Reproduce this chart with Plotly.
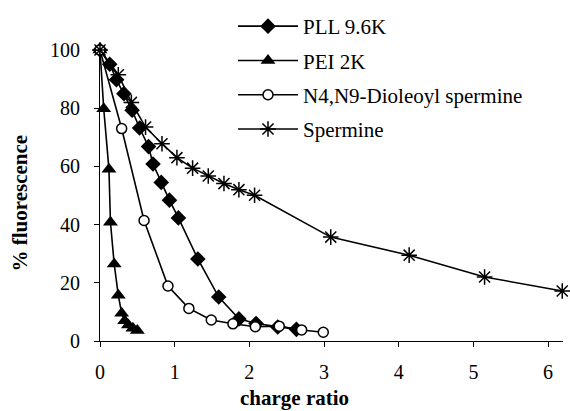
import plotly.graph_objects as go

pll_x = [0, 0.13, 0.22, 0.32, 0.43, 0.53, 0.65, 0.71, 0.82, 0.93, 1.05, 1.31, 1.59, 1.86, 2.09, 2.38, 2.63]
pll_y = [100, 95.1, 89.8, 85.0, 79.3, 73.2, 66.8, 60.8, 54.5, 48.4, 42.3, 28.2, 15.1, 7.6, 6.0, 4.8, 4.0]

pei_x = [0, 0.05, 0.12, 0.14, 0.19, 0.245, 0.29, 0.33, 0.38, 0.44, 0.5]
pei_y = [100, 79.8, 59.0, 40.8, 26.5, 15.7, 9.5, 7.0, 5.5, 4.4, 3.6]

dio_x = [0, 0.29, 0.59, 0.91, 1.19, 1.49, 1.78, 2.08, 2.40, 2.70, 2.99]
dio_y = [100, 73.0, 41.4, 18.9, 11.2, 7.2, 5.9, 4.9, 5.1, 3.8, 3.0]

spm_x = [0, 0.245, 0.42, 0.61, 0.83, 1.03, 1.24, 1.45, 1.66, 1.86, 2.07, 3.09, 4.14, 5.15, 6.19]
spm_y = [100, 91.5, 82.0, 73.5, 67.8, 63.0, 59.4, 56.7, 54.1, 52.0, 50.1, 35.7, 29.5, 22.0, 17.2]

x_ticks = [0, 1, 2, 3, 4, 5, 6]
y_ticks = [0, 20, 40, 60, 80, 100]

FONT = "'Liberation Serif', 'Times New Roman', Times, serif"

fig = go.Figure()
fig.add_trace(go.Scatter(x=pll_x, y=pll_y, name="PLL 9.6K", mode="lines+markers", legendgroup="a",
                         line=dict(color="black", width=1.6),
                         marker=dict(symbol="diamond", size=12, color="black"), cliponaxis=False))
fig.add_trace(go.Scatter(x=pei_x, y=pei_y, name="PEI 2K", mode="lines+markers", legendgroup="b",
                         line=dict(color="black", width=1.6),
                         marker=dict(symbol="triangle-up", size=13, color="black"), cliponaxis=False))
fig.add_trace(go.Scatter(x=dio_x, y=dio_y, name="N4,N9-Dioleoyl spermine", mode="lines+markers", legendgroup="c",
                         line=dict(color="black", width=1.6),
                         marker=dict(symbol="circle", size=10, color="white",
                                     line=dict(color="black", width=1.5)), cliponaxis=False))
fig.add_trace(go.Scatter(x=spm_x, y=spm_y, name="Spermine", mode="lines+markers", legendgroup="d",
                         line=dict(color="black", width=1.6),
                         marker=dict(symbol="asterisk-open", size=13, color="black",
                                     line=dict(color="black", width=1.5)), cliponaxis=False))

axis_common = dict(showline=True, linecolor="black", linewidth=1.2, showgrid=False, zeroline=False,
                   ticks="outside", ticklen=5, tickcolor="black", tickwidth=1.2)

pw, ph = 570 - 100 - 7, 411 - 49 - 70
def px_to_paper(px, py):
    return (px - 100) / pw, (411 - 70 - py) / ph

ax, ay = px_to_paper(294, 398)
bx, by = px_to_paper(20, 203)
lx, ly = px_to_paper(233, 6)

fig.update_layout(
    width=570, height=411,
    margin=dict(l=100, r=7, t=49, b=70),
    font=dict(family=FONT, size=20, color="black"),
    plot_bgcolor="white", paper_bgcolor="white",
    xaxis=dict(range=[0, 6.2], tickvals=x_ticks, ticklabelstandoff=8,
               tickfont=dict(family=FONT, size=20, color="black"), **axis_common),
    yaxis=dict(range=[0, 100], tickvals=y_ticks, ticklabelstandoff=10,
               tickfont=dict(family=FONT, size=20, color="black"), **axis_common),
    legend=dict(x=lx, y=ly, xanchor="left", yanchor="top", bgcolor="rgba(0,0,0,0)",
                font=dict(family=FONT, size=21, color="black"), tracegroupgap=4,
                itemwidth=60),
    showlegend=True,
    annotations=[
        dict(text="<b>charge ratio</b>", x=ax, y=ay, xref="paper", yref="paper",
             xanchor="center", yanchor="middle", showarrow=False,
             font=dict(family=FONT, size=21, color="black")),
        dict(text="<b>% fluorescence</b>", textangle=-90, x=bx, y=by, xref="paper", yref="paper",
             xanchor="center", yanchor="middle", showarrow=False,
             font=dict(family=FONT, size=21, color="black")),
    ],
)

fig.write_html("out.html")
